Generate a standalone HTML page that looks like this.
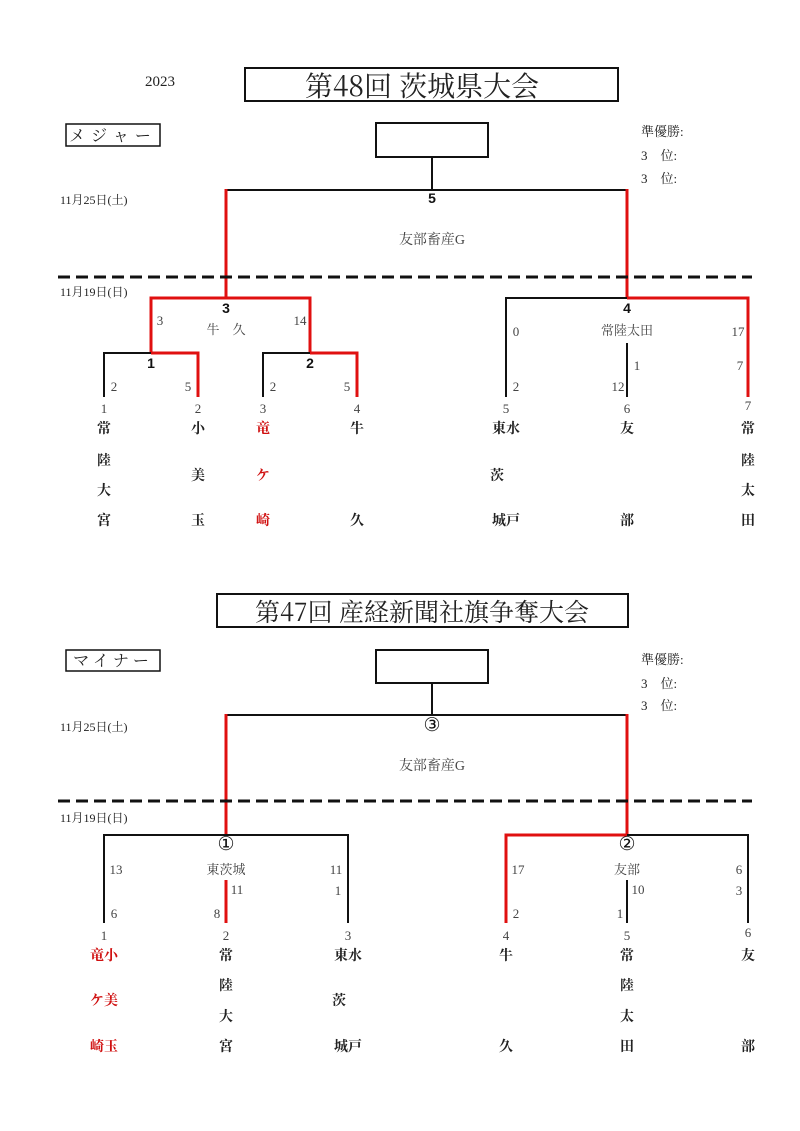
<!DOCTYPE html>
<html><head><meta charset="utf-8"><style>
html,body{margin:0;padding:0;background:#fff;}
svg{display:block;}
text{font-family:"Liberation Serif","Noto Serif CJK SC","Noto Sans CJK JP",serif;fill:#222;}
.n{font-size:13px;text-anchor:middle;}
.b{font-size:14px;font-weight:bold;text-anchor:middle;font-family:"Liberation Sans","Noto Sans CJK JP",sans-serif;fill:#111;}
.s{font-size:13px;text-anchor:middle;fill:#444;}
.r{fill:#d01010;}
.k{stroke:#111;stroke-width:2;fill:none;}
.rd{stroke:#e01010;stroke-width:3;fill:none;}
.c{font-size:19px;text-anchor:middle;font-family:"DejaVu Sans",sans-serif;fill:#111;}
</style></head><body>
<svg width="800" height="1131" xmlns="http://www.w3.org/2000/svg">
<!-- TOP -->
<text x="160" y="86" class="n" style="font-size:15px">2023</text>
<rect x="245" y="68" width="373" height="33" fill="none" stroke="#111" stroke-width="2"/>
<text x="422" y="96" style="font-size:28px;text-anchor:middle;font-family:'Noto Serif CJK SC',serif">第48回 茨城県大会</text>
<rect x="66" y="124" width="94" height="22" fill="none" stroke="#111" stroke-width="1.5"/>
<text x="113" y="141" style="font-size:16px;text-anchor:middle;letter-spacing:6px">メジャー</text>
<rect x="376" y="123" width="112" height="34" fill="none" stroke="#111" stroke-width="2"/>
<text x="641" y="136" class="n" style="text-anchor:start">準優勝:</text>
<text x="641" y="160" class="n" style="text-anchor:start">3　位:</text>
<text x="641" y="183" class="n" style="text-anchor:start">3　位:</text>
<text x="60" y="204" class="n" style="text-anchor:start;font-size:12px">11月25日(土)</text>
<text x="60" y="296" class="n" style="text-anchor:start;font-size:12px">11月19日(日)</text>
<line x1="432" y1="157" x2="432" y2="190" class="k"/>
<line x1="226" y1="190" x2="627" y2="190" class="k"/>
<line x1="226" y1="189" x2="226" y2="298" class="rd"/>
<line x1="627" y1="189" x2="627" y2="298" class="rd"/>
<text x="432" y="203" class="b">5</text>
<text x="432" y="244" class="s" style="font-size:14px">友部畜産G</text>
<line x1="58" y1="277" x2="752" y2="277" stroke="#111" stroke-width="3" stroke-dasharray="12,6"/>
<!-- left semis -->
<line x1="151" y1="298" x2="226" y2="298" class="k"/>
<polyline points="151,353 151,298 310,298 310,353" class="rd"/>
<text x="226" y="313" class="b">3</text>
<text x="226" y="334" class="s">牛　久</text>
<text x="160" y="325" class="s">3</text>
<text x="300" y="325" class="s">14</text>
<polyline points="104,397 104,353 151,353" class="k"/>
<polyline points="151,353 198,353 198,397" class="rd"/>
<text x="151" y="368" class="b">1</text>
<text x="114" y="391" class="s">2</text><text x="188" y="391" class="s">5</text>
<polyline points="263,397 263,353 310,353" class="k"/>
<polyline points="310,353 357,353 357,397" class="rd"/>
<text x="310" y="368" class="b">2</text>
<text x="273" y="391" class="s">2</text><text x="347" y="391" class="s">5</text>
<text x="104" y="413" class="s">1</text><text x="198" y="413" class="s">2</text><text x="263" y="413" class="s">3</text><text x="357" y="413" class="s">4</text>
<g class="b">
<text x="104" y="433">常</text><text x="104" y="465">陸</text><text x="104" y="495">大</text><text x="104" y="525">宮</text>
<text x="198" y="433">小</text><text x="198" y="480">美</text><text x="198" y="525">玉</text>
<text x="263" y="433" class="r">竜</text><text x="263" y="480" class="r">ケ</text><text x="263" y="525" class="r">崎</text>
<text x="357" y="433">牛</text><text x="357" y="525">久</text>
</g>
<!-- right semis -->
<polyline points="506,397 506,298 627,298" class="k"/>
<polyline points="627,298 748,298 748,397" class="rd"/>
<line x1="627" y1="343" x2="627" y2="397" class="k"/>
<text x="627" y="313" class="b">4</text>
<text x="627" y="335" class="s">常陸太田</text>
<text x="516" y="336" class="s">0</text><text x="738" y="336" class="s">17</text>
<text x="637" y="370" class="s">1</text><text x="740" y="370" class="s">7</text>
<text x="516" y="391" class="s">2</text><text x="618" y="391" class="s">12</text>
<text x="506" y="413" class="s">5</text><text x="627" y="413" class="s">6</text><text x="748" y="410" class="s">7</text>
<g class="b">
<text x="506" y="433">東水</text><text x="497" y="480">茨</text><text x="506" y="525">城戸</text>
<text x="627" y="433">友</text><text x="627" y="525">部</text>
<text x="748" y="433">常</text><text x="748" y="465">陸</text><text x="748" y="495">太</text><text x="748" y="525">田</text>
</g>

<!-- BOTTOM -->
<rect x="217" y="594" width="411" height="33" fill="none" stroke="#111" stroke-width="2"/>
<text x="422" y="621" style="font-size:25px;text-anchor:middle;font-family:'Noto Serif CJK SC',serif">第47回 産経新聞社旗争奪大会</text>
<rect x="66" y="650" width="94" height="21" fill="none" stroke="#111" stroke-width="1.5"/>
<text x="113" y="666" style="font-size:16px;text-anchor:middle;letter-spacing:4px">マイナー</text>
<rect x="376" y="650" width="112" height="33" fill="none" stroke="#111" stroke-width="2"/>
<text x="641" y="664" class="n" style="text-anchor:start">準優勝:</text>
<text x="641" y="688" class="n" style="text-anchor:start">3　位:</text>
<text x="641" y="710" class="n" style="text-anchor:start">3　位:</text>
<text x="60" y="731" class="n" style="text-anchor:start;font-size:12px">11月25日(土)</text>
<text x="60" y="822" class="n" style="text-anchor:start;font-size:12px">11月19日(日)</text>
<line x1="432" y1="683" x2="432" y2="715" class="k"/>
<line x1="226" y1="715" x2="627" y2="715" class="k"/>
<line x1="226" y1="714" x2="226" y2="835" class="rd"/>
<line x1="627" y1="714" x2="627" y2="835" class="rd"/>
<text x="432" y="731" class="c">③</text>
<text x="432" y="770" class="s" style="font-size:14px">友部畜産G</text>
<line x1="58" y1="801" x2="752" y2="801" stroke="#111" stroke-width="3" stroke-dasharray="12,6"/>
<!-- left group -->
<polyline points="104,923 104,835 348,835 348,923" class="k"/>
<line x1="226" y1="880" x2="226" y2="923" class="rd"/>
<text x="226" y="850" class="c">①</text>
<text x="226" y="874" class="s">東茨城</text>
<text x="116" y="874" class="s">13</text><text x="336" y="874" class="s">11</text>
<text x="237" y="894" class="s">11</text><text x="338" y="895" class="s">1</text>
<text x="114" y="918" class="s">6</text><text x="217" y="918" class="s">8</text>
<text x="104" y="940" class="s">1</text><text x="226" y="940" class="s">2</text><text x="348" y="940" class="s">3</text>
<g class="b">
<text x="104" y="960" class="r">竜小</text><text x="104" y="1005" class="r">ケ美</text><text x="104" y="1051" class="r">崎玉</text>
<text x="226" y="960">常</text><text x="226" y="990">陸</text><text x="226" y="1021">大</text><text x="226" y="1051">宮</text>
<text x="348" y="960">東水</text><text x="339" y="1005">茨</text><text x="348" y="1051">城戸</text>
</g>
<!-- right group -->
<polyline points="627,835 748,835 748,923" class="k"/>
<polyline points="506,923 506,835 627,835" class="rd"/>
<line x1="627" y1="880" x2="627" y2="923" class="k"/>
<text x="627" y="850" class="c">②</text>
<text x="627" y="874" class="s">友部</text>
<text x="518" y="874" class="s">17</text><text x="739" y="874" class="s">6</text>
<text x="638" y="894" class="s">10</text><text x="739" y="895" class="s">3</text>
<text x="516" y="918" class="s">2</text><text x="620" y="918" class="s">1</text>
<text x="506" y="940" class="s">4</text><text x="627" y="940" class="s">5</text><text x="748" y="937" class="s">6</text>
<g class="b">
<text x="506" y="960">牛</text><text x="506" y="1051">久</text>
<text x="627" y="960">常</text><text x="627" y="990">陸</text><text x="627" y="1021">太</text><text x="627" y="1051">田</text>
<text x="748" y="960">友</text><text x="748" y="1051">部</text>
</g>
</svg>
</body></html>
